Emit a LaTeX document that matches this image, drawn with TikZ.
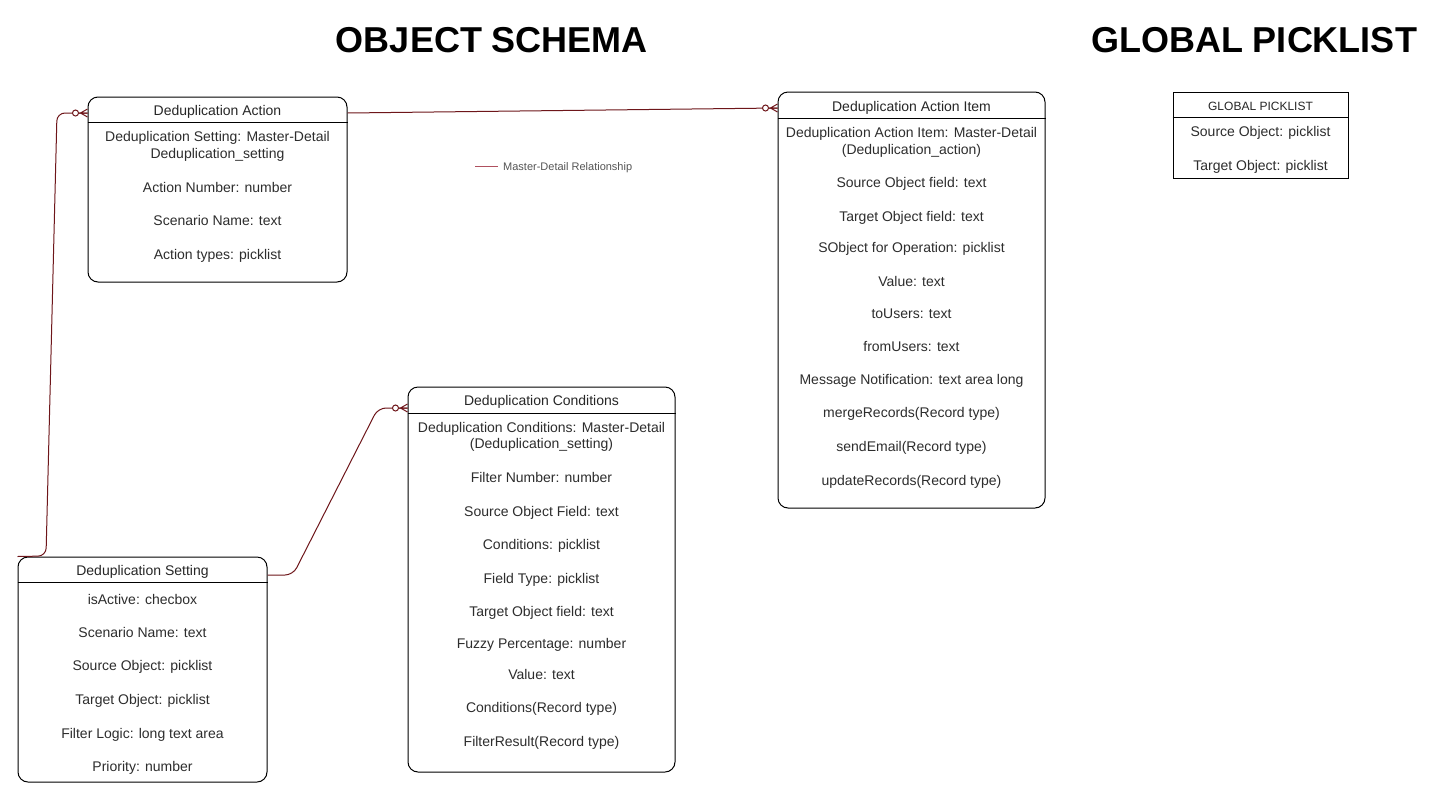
\documentclass[tikz,border=0pt]{standalone}
\usepackage{fontspec}
\setmainfont{Liberation Sans}
\definecolor{relc}{RGB}{110,22,26}
\definecolor{legc}{RGB}{175,80,95}
\definecolor{txtc}{RGB}{45,45,45}
\definecolor{legt}{RGB}{85,85,85}
\tikzset{
  tbl/.style={draw=black, line width=1pt, rounded corners=10pt, inner sep=0pt, fill=white},
  sqtbl/.style={draw=black, line width=1pt, inner sep=0pt, fill=white},
  row/.style={font=\fontsize{14}{16}\selectfont, text=txtc, inner sep=0pt, text height=10pt, text depth=3pt, yshift=-2pt},
  hdr/.style={font=\fontsize{14}{16}\selectfont, text=black!85, inner sep=0pt, text height=10pt, text depth=3pt, yshift=-2pt},
  title/.style={font=\fontsize{36}{40}\selectfont\bfseries, inner sep=0pt},
  rel/.style={draw=relc, line width=1pt},
  crowfoot/.pic={
    \draw[rel] (-7,0) -- (0,4) (-7,0) -- (0,-4) (-9,0) -- (0,0);
    \draw[rel, fill=white] (-12,0) circle (3);
  }
}
\begin{document}
\begin{tikzpicture}[x=1pt,y=-1pt]
\useasboundingbox[fill=white] (0,0) rectangle (1443,793);

% titles
\node[title] (t1) at (492,40) {OBJECT SCHEMA};
\node[title] (t2) at (1254,40) {GLOBAL PICKLIST};

% tables
\node[tbl, minimum width=259pt, minimum height=185pt] (act) at (217.5,189.5) {};
\node[tbl, minimum width=267pt, minimum height=416pt] (ai) at (911.5,300) {};
\node[tbl, minimum width=267pt, minimum height=385pt] (cond) at (541.5,579.5) {};
\node[tbl, minimum width=249pt, minimum height=225pt] (set) at (142.5,669.5) {};
\node[sqtbl, minimum width=175pt, minimum height=86pt] (gp) at (1260.5,135) {};

% header lines
\draw[line width=1pt] (act.west |- 0,122) -- (act.east |- 0,122);
\draw[line width=1pt] (ai.west |- 0,118) -- (ai.east |- 0,118);
\draw[line width=1pt] (cond.west |- 0,413) -- (cond.east |- 0,413);
\draw[line width=1pt] (set.west |- 0,582) -- (set.east |- 0,582);
\draw[line width=1pt] (gp.west |- 0,117) -- (gp.east |- 0,117);

% headers
\node[hdr] (acth) at (217.5,110) {Deduplication Action};
\node[hdr] (aih) at (911.5,106) {Deduplication Action Item};
\node[hdr] (condh) at (541.5,400) {Deduplication Conditions};
\node[hdr] (seth) at (142.5,570) {Deduplication Setting};
\node[hdr, font=\fontsize{12}{14}\selectfont] (gph) at (1260.5,105) {GLOBAL PICKLIST};

% rows
\foreach \t/\y [count=\i] in {{Deduplication Setting: Master-Detail}/136, {Deduplication\_setting}/153, {Action Number: number}/187, {Scenario Name: text}/220, {Action types: picklist}/254}
  \node[row] (act-\i) at (217.5,\y) {\t};

\foreach \t/\y [count=\i] in {{Deduplication Action Item: Master-Detail}/132, {(Deduplication\_action)}/149, {Source Object field: text}/182, {Target Object field: text}/216, {SObject for Operation: picklist}/247, {Value: text}/281, {toUsers: text}/313, {fromUsers: text}/346, {Message Notification: text area long}/379, {mergeRecords(Record type)}/412, {sendEmail(Record type)}/446, {updateRecords(Record type)}/480}
  \node[row] (ai-\i) at (911.5,\y) {\t};

\foreach \t/\y [count=\i] in {{Deduplication Conditions: Master-Detail}/427, {(Deduplication\_setting)}/443, {Filter Number: number}/477, {Source Object Field: text}/511, {Conditions: picklist}/544, {Field Type: picklist}/578, {Target Object field: text}/611, {Fuzzy Percentage: number}/643, {Value: text}/674, {Conditions(Record type)}/707, {FilterResult(Record type)}/741}
  \node[row] (cond-\i) at (541.5,\y) {\t};

\foreach \t/\y [count=\i] in {{isActive: checbox}/599, {Scenario Name: text}/632, {Source Object: picklist}/665, {Target Object: picklist}/699, {Filter Logic: long text area}/733, {Priority: number}/766}
  \node[row] (set-\i) at (142.5,\y) {\t};

\node[row] (gp-1) at (1260.5,131) {Source Object: picklist};
\node[row] (gp-2) at (1260.5,165) {Target Object: picklist};

% legend
\coordinate (lg1) at (475,166);
\coordinate (lg2) at (498,166);
\draw[draw=legc, line width=0.8pt] (lg1) -- (lg2);
\node[anchor=west, inner sep=0pt, font=\fontsize{11}{13}\selectfont, text=legt, yshift=-1.5pt] (legt) at (503,166) {Master-Detail Relationship};

% connectors
\coordinate (c1a) at (46,556);
\coordinate (c1b) at (57,113);
\draw[rel, rounded corners=8pt] (set.north west) -- (c1a) -- (c1b) -- (act.west |- 0,113);
\pic at (act.west |- 0,113) {crowfoot};

\draw[rel] (act.east |- 0,113) -- (ai.west |- 0,108);
\pic at (ai.west |- 0,108) {crowfoot};

\coordinate (c3a) at (293,575);
\coordinate (c3b) at (378,408);
\draw[rel, rounded corners=8pt] (set.east |- 0,575) -- (c3a) -- (c3b) -- (cond.west |- 0,408);
\pic at (cond.west |- 0,408) {crowfoot};
\end{tikzpicture}
\end{document}
